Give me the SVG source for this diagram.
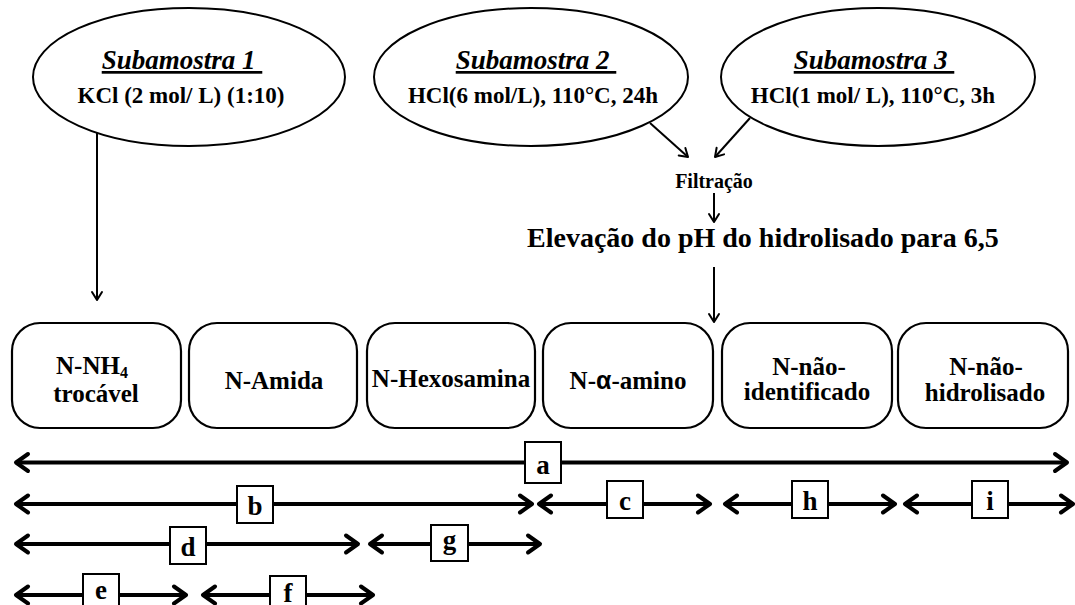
<svg xmlns="http://www.w3.org/2000/svg" width="1075" height="605" viewBox="0 0 1075 605" font-family="'Liberation Serif', 'Times New Roman', 'DejaVu Serif', serif">
<style>
  text { font-family: 'Liberation Serif', 'Times New Roman', 'DejaVu Serif', serif; font-weight: bold; fill: #000; }
  .ell { fill: #fff; stroke: #000; stroke-width: 2; }
  .box { fill: #fff; stroke: #000; stroke-width: 2.2; }
  .lbl { fill: #fff; stroke: #000; stroke-width: 2; }
  .title { font-size: 27px; font-style: italic; text-decoration: underline; text-anchor: middle; }
  .cond { font-size: 23px; text-anchor: middle; }
  .node { font-size: 25px; text-anchor: middle; }
  .let { font-size: 27px; text-anchor: middle; }
  .thin { stroke: #000; stroke-width: 2; fill: none; marker-end: url(#ah); }
  .thick { stroke: #000; stroke-width: 4; fill: none; marker-start: url(#bh); marker-end: url(#bh); }
</style>
<defs>
  <marker id="ah" markerUnits="userSpaceOnUse" viewBox="-12 -8 14 16" markerWidth="14" markerHeight="16" refX="0" refY="0" orient="auto">
    <path d="M-8,-5 L0,0 L-8,5" fill="none" stroke="#000" stroke-width="2" stroke-linecap="round" stroke-linejoin="round"/>
  </marker>
  <marker id="bh" markerUnits="userSpaceOnUse" viewBox="-17 -12 20 24" markerWidth="20" markerHeight="24" refX="0" refY="0" orient="auto-start-reverse">
    <path d="M-12,-8.5 L0,0 L-12,8.5" fill="none" stroke="#000" stroke-width="4" stroke-linecap="round" stroke-linejoin="round"/>
  </marker>
</defs>

<g id="connectors">
  <line class="thin" x1="97" y1="133" x2="97" y2="300"/>
  <line class="thin" x1="650" y1="123" x2="688" y2="157"/>
  <line class="thin" x1="750" y1="118" x2="715" y2="157"/>
  <line class="thin" x1="714" y1="193" x2="714" y2="222"/>
  <line class="thin" x1="714" y1="267" x2="714" y2="322"/>
  <line class="thick" x1="16" y1="462.5" x2="1067" y2="462.5"/>
  <line class="thick" x1="16" y1="504" x2="532" y2="504"/>
  <line class="thick" x1="539" y1="504" x2="710" y2="504"/>
  <line class="thick" x1="725" y1="504" x2="895" y2="504"/>
  <line class="thick" x1="905" y1="504" x2="1073" y2="504"/>
  <line class="thick" x1="16" y1="544" x2="358" y2="544"/>
  <line class="thick" x1="370" y1="544" x2="540" y2="544"/>
  <line class="thick" x1="16" y1="595" x2="186" y2="595"/>
  <line class="thick" x1="203" y1="595" x2="373" y2="595"/>
</g>

<g id="subamostra1">
  <ellipse class="ell" cx="189" cy="77" rx="156" ry="69"/>
  <text class="title" x="182" y="69">Subamostra 1&#160;</text>
  <text class="cond" x="181" y="103">KCl (2 mol/ L) (1:10)</text>
</g>
<g id="subamostra2">
  <ellipse class="ell" cx="531" cy="77" rx="157" ry="69"/>
  <text class="title" x="536" y="69">Subamostra 2&#160;</text>
  <text class="cond" x="533" y="103">HCl(6 mol/L), 110°C, 24h</text>
</g>
<g id="subamostra3">
  <ellipse class="ell" cx="878" cy="77" rx="157" ry="69"/>
  <text class="title" x="874" y="69">Subamostra 3&#160;</text>
  <text class="cond" x="873" y="103">HCl(1 mol/ L), 110°C, 3h</text>
</g>

<g id="filtracao">
  <text x="714" y="188" font-size="20" text-anchor="middle">Filtração</text>
</g>
<g id="elevacao">
  <text x="527" y="247" font-size="28">Elevação do pH do hidrolisado para 6,5</text>
</g>

<g id="n-nh4">
  <rect class="box" x="12" y="323" width="169" height="105" rx="28"/>
  <text class="node" x="92" y="374">N-NH<tspan font-size="16" dy="4">4</tspan></text>
  <text class="node" x="96" y="402">trocável</text>
</g>
<g id="n-amida">
  <rect class="box" x="189" y="323" width="168" height="105" rx="28"/>
  <text class="node" x="274" y="389">N-Amida</text>
</g>
<g id="n-hexosamina">
  <rect class="box" x="367" y="323" width="168" height="105" rx="28"/>
  <text class="node" x="451" y="387">N-Hexosamina</text>
</g>
<g id="n-alfa-amino">
  <rect class="box" x="543" y="323" width="170" height="105" rx="28"/>
  <text class="node" x="628" y="389">N-<tspan style="font-family:'Liberation Sans', Arial, sans-serif">α</tspan>-amino</text>
</g>
<g id="n-nao-identificado">
  <rect class="box" x="722" y="323" width="170" height="105" rx="28"/>
  <text class="node" x="809" y="375">N-não-</text>
  <text class="node" x="807" y="400">identificado</text>
</g>
<g id="n-nao-hidrolisado">
  <rect class="box" x="898" y="323" width="170" height="105" rx="28"/>
  <text class="node" x="986" y="375">N-não-</text>
  <text class="node" x="985" y="401">hidrolisado</text>
</g>

<g id="label-a"><rect class="lbl" x="525" y="442" width="36" height="41"/><text class="let" x="543" y="474">a</text></g>
<g id="label-b"><rect class="lbl" x="237" y="486" width="36" height="37"/><text class="let" x="255" y="515">b</text></g>
<g id="label-c"><rect class="lbl" x="607" y="481" width="36" height="37"/><text class="let" x="625" y="510">c</text></g>
<g id="label-h"><rect class="lbl" x="792" y="481" width="36" height="37"/><text class="let" x="810" y="510">h</text></g>
<g id="label-i"><rect class="lbl" x="972" y="481" width="36" height="37"/><text class="let" x="990" y="510">i</text></g>
<g id="label-d"><rect class="lbl" x="170" y="527" width="36" height="37"/><text class="let" x="188" y="556">d</text></g>
<g id="label-g"><rect class="lbl" x="431" y="525" width="37" height="36"/><text class="let" x="449.5" y="549">g</text></g>
<g id="label-e"><rect class="lbl" x="83" y="574" width="36" height="40"/><text class="let" x="101" y="599">e</text></g>
<g id="label-f"><rect class="lbl" x="270" y="576" width="36" height="40"/><text class="let" x="288" y="602">f</text></g>
</svg>
